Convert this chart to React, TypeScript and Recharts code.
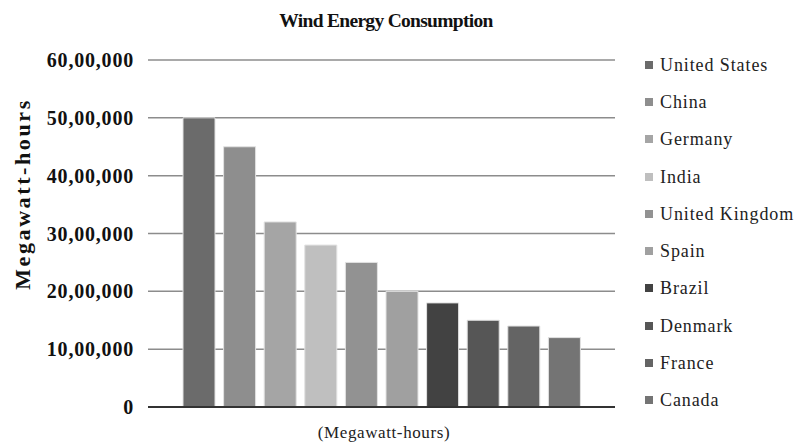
import { BarChart, Bar, XAxis, YAxis, CartesianGrid, Cell } from 'recharts'

const countries = [
  'United States',
  'China',
  'Germany',
  'India',
  'United Kingdom',
  'Spain',
  'Brazil',
  'Denmark',
  'France',
  'Canada',
]
const consumption = [5000000, 4500000, 3200000, 2800000, 2500000, 2000000, 1800000, 1500000, 1400000, 1200000]
const barColors = ['#6b6b6b', '#8e8e8e', '#a5a5a5', '#bfbfbf', '#929292', '#a0a0a0', '#424242', '#565656', '#646464', '#747474']
const yTicks = [0, 1000000, 2000000, 3000000, 4000000, 5000000, 6000000]

const data = countries.map((name, i) => ({ name, value: consumption[i] }))

const SERIF = "'Liberation Serif', 'DejaVu Serif', serif"

// Indian digit grouping: 60,00,000
const formatIndian = (v: number) => {
  const s = String(Math.round(v))
  if (s.length <= 3) return s
  const last3 = s.slice(-3)
  const rest = s.slice(0, -3).replace(/\B(?=(\d{2})+(?!\d))/g, ',')
  return `${rest},${last3}`
}

const CountryLegend = () => (
  <div
    style={{
      position: 'absolute',
      left: 645,
      top: 46,
      width: 154,
      fontFamily: SERIF,
      fontSize: 18,
      color: '#222',
      letterSpacing: 0.9,
      lineHeight: 1,
    }}
  >
    {countries.map((c, i) => (
      <div key={c} style={{ display: 'flex', alignItems: 'center', height: 37.3 }}>
        <span style={{ width: 8, height: 8, background: barColors[i], marginRight: 7, display: 'inline-block' }} />
        <span>{c}</span>
      </div>
    ))}
  </div>
)

export default function App() {
  return (
    <div style={{ position: 'absolute', left: 0, top: 0, width: 799, height: 442, background: '#fff' }}>
      <BarChart width={799} height={442} data={data} margin={{ top: 60, right: 184, bottom: 5, left: 8 }}>
        <text
          x={386}
          y={27}
          textAnchor="middle"
          style={{ fontFamily: SERIF }}
          fontWeight="bold"
          fontSize={19.5}
          letterSpacing={-0.7}
          fill="#111"
        >
          Wind Energy Consumption
        </text>
        <text
          x={30}
          y={194}
          transform="rotate(-90 30 194)"
          textAnchor="middle"
          style={{ fontFamily: SERIF }}
          fontWeight="bold"
          fontSize={22}
          letterSpacing={2.6}
          fill="#111"
        >
          Megawatt-hours
        </text>
        <text x={384} y={438} textAnchor="middle" style={{ fontFamily: SERIF }} fontSize={17} letterSpacing={0.6} fill="#222">
          (Megawatt-hours)
        </text>
        <CartesianGrid vertical={false} stroke="#8c8c8c" strokeWidth={1.5} />
        <XAxis
          dataKey="name"
          tick={false}
          tickLine={false}
          height={30}
          padding={{ left: 31, right: 30 }}
          axisLine={{ stroke: '#333', strokeWidth: 2 }}
        />
        <YAxis
          width={140}
          domain={[0, 6000000]}
          ticks={yTicks}
          tickFormatter={formatIndian}
          axisLine={false}
          tickLine={false}
          tickSize={0}
          tickMargin={14}
          tick={{ style: { fontFamily: SERIF }, fontSize: 20, fontWeight: 'bold', fill: '#111', letterSpacing: 0.8 }}
        />
        <Bar dataKey="value" barSize={32} stroke="#e2e2e2" strokeWidth={1} isAnimationActive={false}>
          {data.map((_, i) => (
            <Cell key={i} fill={barColors[i]} />
          ))}
        </Bar>
      </BarChart>
      <CountryLegend />
    </div>
  )
}
